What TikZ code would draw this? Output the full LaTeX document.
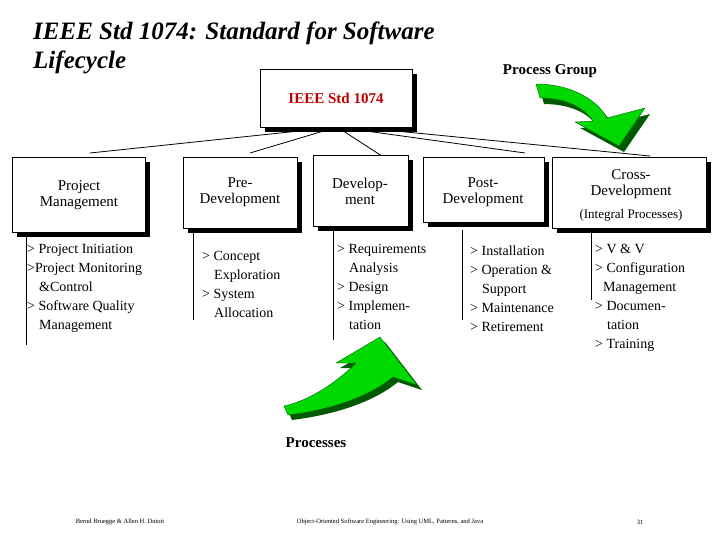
\documentclass[tikz,border=0pt]{standalone}
\usepackage{fontspec}
\setmainfont{Liberation Serif}
\begin{document}
\begin{tikzpicture}[x=1pt,y=-1pt,
 bx/.style={draw,fill=white,line width=0.6pt,inner sep=0pt},
 sh/.style={fill=black},
 hd/.style={font=\fontsize{15}{16}\selectfont,align=center},
 ls/.style={font=\fontsize{14}{19}\selectfont,align=left,anchor=north west,inner sep=0pt},
 ln/.style={line width=0.8pt},
 arr/.style={fill=green!85!black,draw=green!40!black,line width=0.4pt}]
\useasboundingbox (0,0) rectangle (720,540);
% title
\node[anchor=north west,align=left,font=\fontsize{25}{29}\selectfont\bfseries\itshape,inner sep=0pt] (title) at (33,22) {IEEE Std 1074: Standard for Software\\Lifecycle};
\node[font=\fontsize{15}{16}\selectfont\bfseries] (pg) at (550,71) {Process Group};
% connectors
\coordinate (c) at (337,127);
\draw[ln] (c) -- (90,153);
\draw[ln] (c) -- (250,153);
\draw[ln] (c) -- (385,158);
\draw[ln] (c) -- (525,153);
\draw[ln] (345,126) -- (650,156);
% boxes with shadows
\foreach \a/\b/\c/\d in {260/69/412/127, 12/157/145/232, 183/157/297/228, 313/155/408/226, 423/157/544/222, 552/157/706/228}{
 \fill[sh] (\a+5,\b+5) rectangle (\c+5,\d+5);
 \draw[bx] (\a,\b) rectangle (\c,\d);}
\node[font=\fontsize{15}{16}\selectfont\bfseries,text=red!75!black] (top) at (336,98) {IEEE Std 1074};
\node[hd] (pm) at (79,195) {Project\\Management};
\node[hd] (pre) at (240,192) {Pre-\\Development};
\node[hd] (dev) at (360,191) {Develop-\\ment};
\node[hd] (post) at (483,192) {Post-\\Development};
\node[hd] (cross) at (631,184) {Cross-\\Development};
\node[font=\fontsize{13}{14}\selectfont] (integ) at (631,215) {(Integral Processes)};
% vertical lines
\draw[line width=0.6pt] (26,232) -- (26,345);
\draw[line width=0.6pt] (193,230) -- (193,320);
\draw[line width=0.6pt] (333,230) -- (333,340);
\draw[line width=0.6pt] (462,230) -- (462,320);
\draw[line width=0.6pt] (591,230) -- (591,300);
% lists
\node[ls] (l1) at (27,244) {> Project Initiation\\>Project Monitoring\\\hspace*{12pt}\&Control\\> Software Quality\\\hspace*{12pt}Management};
\node[ls] (l2) at (202,251) {> Concept\\\hspace*{12pt}Exploration\\> System\\\hspace*{12pt}Allocation};
\node[ls] (l3) at (337,244) {> Requirements\\\hspace*{12pt}Analysis\\> Design\\> Implemen-\\\hspace*{12pt}tation};
\node[ls] (l4) at (470,246) {> Installation\\> Operation \&\\\hspace*{12pt}Support\\> Maintenance\\> Retirement};
\node[ls] (l5) at (595,244) {> V \& V\\> Configuration\\\hspace*{8pt}Management\\> Documen-\\\hspace*{12pt}tation\\> Training};
% green arrows
\fill[green!35!black] (540,90) .. controls (580,90) and (605,110) .. (612,124) -- (650,114) -- (624,152) -- (580,128) -- (598,127) .. controls (588,112) and (568,104) .. (544,104) -- cycle;
\fill[arr] (536,84) .. controls (576,84) and (600,104) .. (607,118) -- (645,108) -- (619,146) -- (575,122) -- (593,121) .. controls (583,106) and (564,98) .. (540,98) -- cycle;
\fill[green!35!black] (288,411) .. controls (320,404) and (348,380) .. (360,368) -- (340,368) -- (385,342) -- (422,390) -- (398,382) .. controls (376,400) and (340,414) .. (292,420) -- cycle;
\fill[arr] (284,406) .. controls (316,399) and (344,375) .. (356,363) -- (336,363) -- (380,337) -- (417,385) -- (393,377) .. controls (371,395) and (336,409) .. (288,415) -- cycle;
\node[font=\fontsize{15}{16}\selectfont\bfseries] (proc) at (316,443) {Processes};
% footer
\node[font=\fontsize{6.5}{7}\selectfont] (f1) at (120,522) {Bernd Bruegge \& Allen H. Dutoit};
\node[font=\fontsize{6.5}{7}\selectfont] (f2) at (390,522) {Object-Oriented Software Engineering: Using UML, Patterns, and Java};
\node[font=\fontsize{6.5}{7}\selectfont] (f3) at (640,522) {31};
\end{tikzpicture}
\end{document}
